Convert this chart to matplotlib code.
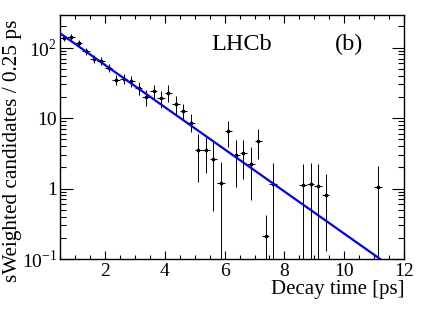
import numpy as np
import matplotlib
matplotlib.use("Agg")
from matplotlib import pyplot as plt
from matplotlib.ticker import FixedLocator, LogLocator, MultipleLocator, FuncFormatter

plt.rcParams['font.family'] = ['Liberation Serif', 'DejaVu Serif']
plt.rcParams['mathtext.fontset'] = 'custom'
plt.rcParams['mathtext.rm'] = 'Liberation Serif'

# decay time bin centres [ps] (0.25 ps bins), sWeighted yields and error bar ends
t = [0.625, 0.875, 1.125, 1.375, 1.625, 1.875, 2.125, 2.375, 2.625, 2.875,
     3.125, 3.375, 3.625, 3.875, 4.125, 4.375, 4.625, 4.875, 5.125, 5.375,
     5.625, 5.875, 6.125, 6.375, 6.625, 6.875, 7.125, 7.375, 7.625, 8.625,
     8.875, 9.125, 9.375, 11.125]
yields = [139, 142, 115, 89, 69, 65, 52, 35, 36, 34,
          27, 20, 24, 19, 23, 16, 12.6, 8.4, 3.56, 3.56,
          2.63, 1.21, 6.5, 3.0, 3.16, 2.24, 4.8, 0.21, 1.15, 1.11,
          1.16, 1.07, 0.81, 1.06]
err_lo = [125, 129, 103, 79, 60, 56.5, 44.5, 29.5, 30, 28,
          21.5, 15, 18.5, 14, 17, 11.5, 9.7, 6.3, 1.25, 1.67,
          0.48, 0.05, 3.83, 1.06, 1.35, 0.68, 2.6, 0.05, 0.05, 0.05,
          0.05, 0.05, 0.13, 0.05]
err_hi = [153, 155, 127, 99, 78, 73.5, 59.5, 40.5, 42, 40,
          32.5, 25, 29.5, 24, 29, 20.5, 15.6, 11.4, 5.9, 5.4,
          4.8, 2.35, 9.1, 4.9, 4.9, 3.83, 7.0, 0.42, 2.3, 2.2,
          2.3, 2.2, 1.62, 2.07]
bin_half = 0.125

# exponential fit: N(t) = amp * exp(-t / tau)
fit_amp = 226.0
fit_tau = 1.45

fig = plt.figure(figsize=(4.27, 3.10), dpi=100)
ax = fig.add_axes([0.1405, 0.1645, 0.806, 0.787])

y = np.array(yields)
yerr = [y - np.array(err_lo), np.array(err_hi) - y]
ax.errorbar(t, y, xerr=bin_half, yerr=yerr, fmt='s', color='black',
            ecolor='black', elinewidth=0.7, markersize=2.0, capsize=0, zorder=3)

tt = np.linspace(0.5, 12, 400)
ax.plot(tt, fit_amp * np.exp(-tt / fit_tau), color='#0000ff', lw=1.6, zorder=4)

ax.set_yscale('log')
ax.set_xlim(0.5, 12)
ax.set_ylim(0.1, 290)

ax.xaxis.set_major_locator(MultipleLocator(2))
ax.xaxis.set_minor_locator(MultipleLocator(0.5))
ax.yaxis.set_major_locator(FixedLocator([0.1, 1, 10, 100]))
ax.yaxis.set_minor_locator(LogLocator(base=10, subs=np.arange(2, 10)))

def ylab(v, pos):
    return {0.1: '$10^{-1}$', 1: '1', 10: '10', 100: '$10^{2}$'}.get(round(v, 3), '')

ax.yaxis.set_major_formatter(FuncFormatter(ylab))
ax.yaxis.set_minor_formatter(FuncFormatter(lambda v, p: ''))

ax.tick_params(which='both', direction='in', top=True, right=True,
               labelsize=14, width=0.8)
ax.tick_params(axis='x', which='major', length=6, pad=3)
ax.tick_params(axis='x', which='minor', length=3)
ax.tick_params(axis='y', which='major', length=9, pad=2)
ax.tick_params(axis='y', which='minor', length=4.5)
for s in ax.spines.values():
    s.set_linewidth(1.0)

ax.set_xlabel('Decay time [ps]', fontsize=15, loc='right', labelpad=0)
ax.set_ylabel('sWeighted candidates / 0.25 ps', fontsize=15.3)
ax.yaxis.set_label_coords(-0.11, 0.445)

ax.text(0.44, 0.855, 'LHCb', transform=ax.transAxes, fontsize=17.5)
ax.text(0.8, 0.855, '(b)', transform=ax.transAxes, fontsize=17.5)

fig.savefig('out.png', dpi=100)
